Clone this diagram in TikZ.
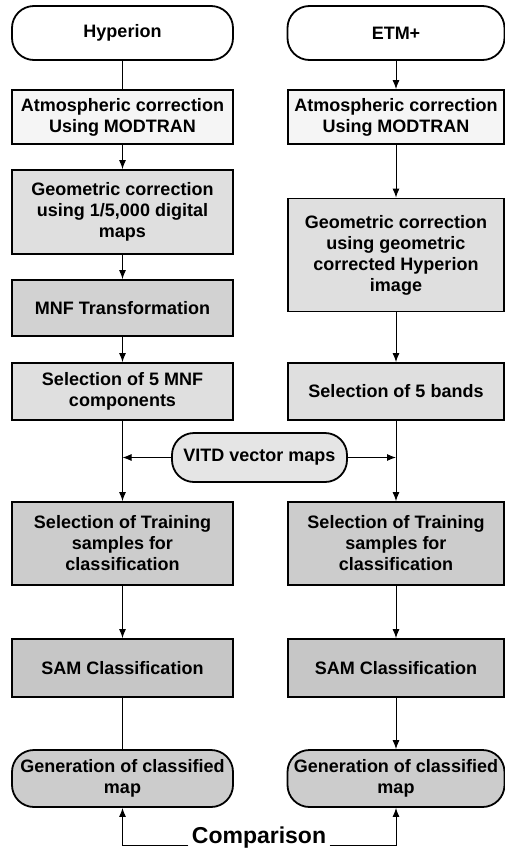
\documentclass[tikz,border=0pt]{standalone}
\usepackage{fontspec}
\setmainfont{Liberation Sans}
\usetikzlibrary{arrows.meta}

\begin{document}
\begin{tikzpicture}[x=1pt,y=-1pt,
	box/.style={draw,line width=1.8pt,minimum width=221pt,inner sep=0pt,align=center,
		font=\fontsize{18}{21}\selectfont\bfseries},
	rbox/.style={box,minimum width=216pt},
	term/.style={box,rounded corners=22pt},
	rterm/.style={term,minimum width=217pt},
	link/.style={line width=1pt},
	arr/.style={link,-{Latex[length=9pt,width=7pt]}}]

	\useasboundingbox (0,0) rectangle (504,852);

	\node[term,fill=white,minimum height=54pt] (hyp) at (122.5,33) {Hyperion};
	\node[rterm,fill=white,minimum height=54pt] (etm) at (396,33) {ETM+};

	\node[box,fill=gray!8,minimum height=54pt] (atmL) at (122.5,117) {Atmospheric correction\\Using MODTRAN};
	\node[rbox,fill=gray!8,minimum height=54pt] (atmR) at (396,117) {Atmospheric correction\\Using MODTRAN};

	\node[box,fill=gray!25,minimum height=84pt] (geoL) at (122.5,212) {Geometric correction\\using 1/5,000 digital\\maps};
	\node[rbox,fill=gray!25,minimum height=113pt] (geoR) at (396,255) {Geometric correction\\using geometric\\corrected Hyperion\\image};

	\node[box,fill=gray!35,minimum height=56pt] (mnf) at (122.5,308) {MNF Transformation};

	\node[box,fill=gray!25,minimum height=57pt] (selL) at (122.5,391.5) {Selection of 5 MNF\\components};
	\node[rbox,fill=gray!25,minimum height=57pt] (selR) at (396,391.5) {Selection of 5 bands};

	\node[term,fill=gray!20,minimum width=175pt,minimum height=49pt] (vitd) at (259.5,457.5) {VITD vector maps};
	\coordinate (jL) at (122.5,457.5);
	\coordinate (jR) at (396,457.5);

	\node[box,fill=gray!40,minimum height=83pt] (trnL) at (122.5,543.5) {Selection of Training\\samples for\\classification};
	\node[rbox,fill=gray!40,minimum height=83pt] (trnR) at (396,543.5) {Selection of Training\\samples for\\classification};

	\node[box,fill=gray!45,minimum height=58pt] (samL) at (122.5,668) {SAM Classification};
	\node[rbox,fill=gray!45,minimum height=58pt] (samR) at (396,668) {SAM Classification};

	\node[term,fill=gray!40,minimum height=57pt] (genL) at (122.5,778.5) {Generation of classified\\map};
	\node[rterm,fill=gray!40,minimum height=57pt] (genR) at (396,778.5) {Generation of classified\\map};

	\node[font=\fontsize{23}{25}\selectfont\bfseries] (cmp) at (259,838) {Comparison};

	\draw[link] (hyp) -- (atmL);
	\draw[arr] (etm) -- (atmR);
	\draw[arr] (atmL) -- (geoL);
	\draw[arr] (atmR) -- (geoR);
	\draw[arr] (geoL) -- (mnf);
	\draw[arr] (geoR) -- (selR);
	\draw[arr] (mnf) -- (selL);
	\draw[arr] (selL) -- (trnL);
	\draw[arr] (selR) -- (trnR);
	\draw[arr] (vitd) -- (jL);
	\draw[arr] (vitd) -- (jR);
	\draw[arr] (trnL) -- (samL);
	\draw[arr] (trnR) -- (samR);
	\draw[link] (samL) -- (genL);
	\draw[arr] (samR) -- (genR);
	\draw[arr] ([yshift=-7pt]cmp.west) -| (genL);
	\draw[arr] ([yshift=-7pt]cmp.east) -| (genR);

\end{tikzpicture}
\end{document}
